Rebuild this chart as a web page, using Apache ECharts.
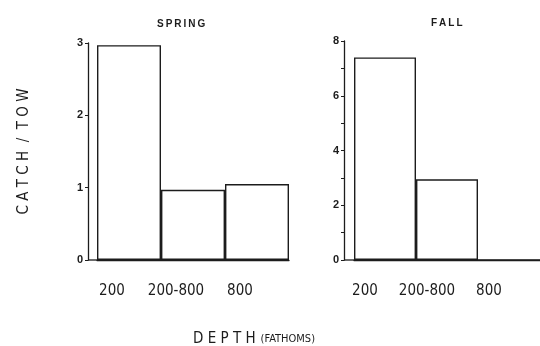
<!DOCTYPE html>
<html>
<head>
<meta charset="utf-8">
<script src="https://cdn.jsdelivr.net/npm/echarts@6/dist/echarts.min.js"></script>
<style>
  html, body { margin: 0; padding: 0; background: #fff; }
  #chart { width: 540px; height: 346px; }
</style>
</head>
<body>
<div id="chart"></div>
<script>
// depth classes (fathoms)
var categories = ['200', '200-800', '800'];
// catch per tow
var springCatch = [2.97, 0.97, 1.05];
var fallCatch = [7.4, 2.95, 0];
// labelled y ticks
var springTicks = [0, 1, 2, 3];
var fallTicks = [0, 2, 4, 6, 8];

var ink = '#1c1c1c';
var catFont = '"DejaVu Sans Condensed", "Liberation Sans Narrow", "DejaVu Sans", sans-serif';

function xAx(grid, shift) {
  return {
    type: 'category', gridIndex: grid, data: categories,
    axisLine: { lineStyle: { color: ink, width: 1.3 } },
    axisTick: { show: false },
    axisLabel: { color: ink, fontSize: 15, fontFamily: catFont, margin: 24,
      interval: 0, hideOverlap: false, padding: [0, shift, 0, 0] }
  };
}

function yAx(grid, ticks, offset) {
  return {
    type: 'value', gridIndex: grid, min: 0, max: ticks[ticks.length - 1], interval: 1,
    offset: offset,
    splitLine: { show: false },
    axisLine: { show: true, lineStyle: { color: ink, width: 1.3 } },
    axisTick: { show: true, length: 3, lineStyle: { color: ink } },
    axisLabel: {
      color: ink, fontSize: 11, fontWeight: 'bold', margin: 5,
      formatter: function (v) { return ticks.indexOf(v) >= 0 ? String(v) : ''; }
    }
  };
}

function bars(idx, data) {
  return {
    type: 'bar', xAxisIndex: idx, yAxisIndex: idx, data: data,
    barCategoryGap: 0, barGap: 0,
    itemStyle: { color: '#fff', borderColor: ink, borderWidth: 1.4 },
    silent: true
  };
}

var myChart = echarts.init(document.getElementById('chart'));
var option = {
  backgroundColor: '#fff',
  animation: false,
  title: [
    { text: 'S\u2009P\u2009R\u2009I\u2009N\u2009G', left: 152, top: 14,
      textStyle: { fontSize: 10, fontWeight: 'bold', color: ink } },
    { text: 'F\u2009A\u2009L\u2009L', left: 426, top: 13,
      textStyle: { fontSize: 10, fontWeight: 'bold', color: ink } },
    { text: '{a|D E P T H} {b|(FATHOMS)}', left: 193, top: 330, padding: 0,
      textStyle: { fontWeight: 'normal', rich: {
        a: { fontSize: 15, color: ink, fontFamily: catFont, fontWeight: 'normal' },
        b: { fontSize: 11, color: ink, fontFamily: catFont, fontWeight: 'normal' }
      } } }
  ],
  grid: [
    { left: 97, top: 43, width: 192, bottom: 86 },
    { left: 354, top: 41, width: 195, bottom: 86 }
  ],
  xAxis: [xAx(0, 34), xAx(1, 40)],
  yAxis: [
    Object.assign(yAx(0, springTicks, 9), {
      name: 'C A T C H  /  T O W', nameLocation: 'middle', nameGap: 56,
      nameTextStyle: { fontSize: 15, color: ink, fontFamily: catFont }
    }),
    yAx(1, fallTicks, 10)
  ],
  graphic: [
    { type: 'line', shape: { x1: 88, y1: 260, x2: 97, y2: 260 }, style: { stroke: ink, lineWidth: 1.3 } },
    { type: 'line', shape: { x1: 344, y1: 260, x2: 354, y2: 260 }, style: { stroke: ink, lineWidth: 1.3 } }
  ],
  series: [bars(0, springCatch), bars(1, fallCatch)]
};
myChart.setOption(option);
</script>
</body>
</html>
